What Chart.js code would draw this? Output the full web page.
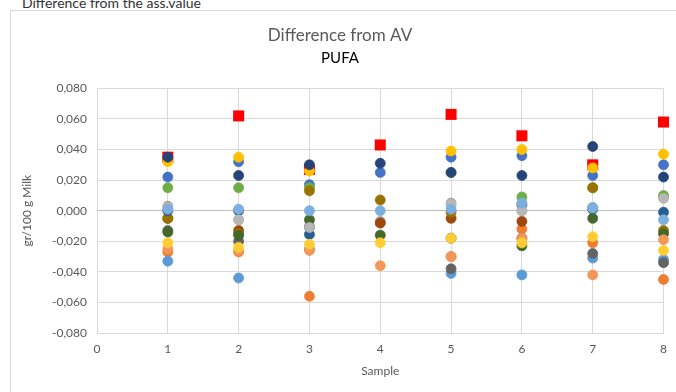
<!DOCTYPE html>
<html>
<head>
<meta charset="utf-8">
<script src="https://cdn.jsdelivr.net/npm/chart.js@4.4.0/dist/chart.umd.min.js"></script>
<style>
  html, body { margin: 0; padding: 0; background: #fff; overflow: hidden; }
  #note { position: absolute; left: 22px; top: -6px; font: 14px Lato, sans-serif; color: #333; white-space: nowrap; }
  #box { position: absolute; left: 10px; top: 10px; width: 700px; height: 420px; border: 1px solid #d9d9d9; }
  #wrap { position: absolute; left: 10px; top: 10px; width: 666px; height: 382px; }
</style>
</head>
<body>
<div id="note">Difference from the ass.value</div>
<div id="box"></div>
<div id="wrap"><canvas id="chart"></canvas></div>
<script>
// sample numbers on the x axis
const SAMPLES = [1, 2, 3, 4, 5, 6, 7, 8];

// red squares
const AV_LIMIT = [0.035, 0.062, 0.027, 0.043, 0.063, 0.049, 0.030, 0.058];

// one array per lab (null = not visible)
const LAB_01 = [0.022, 0.032, 0.017, 0.025, 0.035, 0.036, 0.023, 0.030];
const LAB_02 = [-0.027, -0.027, -0.056, -0.008, -0.030, -0.012, -0.021, -0.045];
const LAB_03 = [0.003, -0.006, -0.010, -0.007, 0.005, 0.000, 0.002, 0.009];
const LAB_04 = [0.032, 0.035, 0.026, null, 0.039, 0.040, 0.028, 0.037];
const LAB_05 = [-0.033, -0.044, -0.025, null, -0.041, -0.042, -0.031, -0.032];
const LAB_06 = [0.015, 0.015, 0.015, null, 0.025, 0.009, 0.015, 0.010];
const LAB_07 = [0.035, 0.023, 0.030, 0.031, 0.025, 0.023, 0.042, 0.022];
const LAB_08 = [-0.005, -0.013, null, -0.008, -0.005, -0.007, null, null];
const LAB_09 = [-0.013, -0.020, -0.011, null, -0.038, -0.018, -0.028, -0.034];
const LAB_10 = [-0.005, -0.015, 0.013, 0.007, -0.001, null, 0.015, -0.013];
const LAB_11 = [0.000, 0.000, -0.0155, null, null, 0.004, 0.001, -0.001];
const LAB_12 = [-0.014, -0.016, -0.006, -0.016, -0.018, -0.023, -0.005, -0.015];
const LAB_13 = [-0.025, -0.026, -0.026, -0.036, -0.030, -0.018, -0.042, -0.019];
const LAB_14 = [0.002, -0.006, -0.011, null, 0.004, 0.000, 0.002, 0.008];
const LAB_15 = [-0.021, -0.024, -0.022, -0.021, -0.018, -0.021, -0.017, -0.026];
const LAB_16 = [0.001, 0.001, 0.000, 0.000, 0.001, 0.005, 0.002, -0.006];

const LABS = [LAB_01, LAB_02, LAB_03, LAB_04, LAB_05, LAB_06, LAB_07, LAB_08,
              LAB_09, LAB_10, LAB_11, LAB_12, LAB_13, LAB_14, LAB_15, LAB_16];
const LAB_COLORS = ['#4472C4', '#ED7D31', '#A5A5A5', '#FFC000', '#5B9BD5', '#70AD47', '#264478', '#9E480E',
                    '#636363', '#997300', '#255E91', '#43682B', '#F1975A', '#B7B7B7', '#FFCD33', '#7CAFDD'];

const Y_MIN = -0.08, Y_MAX = 0.08, Y_STEP = 0.02;
const X_MIN = 0, X_MAX = 8;

const toPoints = vals => SAMPLES.map((s, i) => ({ x: s, y: vals[i] })).filter(p => p.y !== null);

const datasets = [{
  label: 'AV',
  data: toPoints(AV_LIMIT),
  pointStyle: 'rect',
  pointRadius: 7.8,
  backgroundColor: '#FF0000',
  borderColor: '#FF0000',
  borderWidth: 0,
  clip: false,
  order: 100
}];
LABS.forEach((vals, i) => {
  datasets.push({
    label: 'Lab ' + (i + 1),
    data: toPoints(vals),
    pointRadius: 5,
    backgroundColor: LAB_COLORS[i],
    borderColor: LAB_COLORS[i],
    borderWidth: 0.75,
    clip: false,
    order: LABS.length - i
  });
});

const gridColor = ctx => (ctx.tick && Math.abs(ctx.tick.value) < 1e-9 && ctx.scale.axis === 'y') ? '#bfbfbf' : '#d9d9d9';

new Chart(document.getElementById('chart'), {
  type: 'scatter',
  data: { datasets },
  options: {
    responsive: true,
    maintainAspectRatio: false,
    animation: false,
    layout: { padding: { left: 6, right: 12, bottom: 10 } },
    plugins: {
      legend: { display: false },
      tooltip: { enabled: false },
      title: {
        display: true,
        text: 'Difference from AV',
        color: '#595959',
        font: { family: 'Lato', size: 17, weight: 'normal' },
        padding: { top: 15, bottom: 2 }
      },
      subtitle: {
        display: true,
        text: 'PUFA',
        color: '#000',
        font: { family: 'Lato', size: 15, weight: 'normal' },
        padding: { top: 2, bottom: 21 }
      }
    },
    scales: {
      x: {
        type: 'linear',
        min: X_MIN,
        max: X_MAX,
        afterFit: s => { s.height = 49; },
        ticks: { stepSize: 1, color: '#595959', font: { family: 'Lato', size: 12 }, padding: 9 },
        grid: { color: '#d9d9d9', drawTicks: false },
        border: { color: '#d9d9d9' },
        title: { display: true, text: 'Sample', color: '#595959', font: { family: 'Lato', size: 12 }, padding: { top: 4 } }
      },
      y: {
        min: Y_MIN,
        max: Y_MAX,
        afterFit: s => { s.width = 81; },
        ticks: {
          stepSize: Y_STEP,
          color: '#595959',
          font: { family: 'Lato', size: 12 },
          padding: 10,
          callback: v => (Math.abs(v) < 1e-9 ? 0 : v).toFixed(3).replace('.', ',')
        },
        grid: { color: gridColor, drawTicks: false },
        border: { color: '#d9d9d9' },
        title: { display: true, text: 'gr/100 g Milk', color: '#595959', font: { family: 'Lato', size: 12 }, padding: { top: 4 } }
      }
    }
  }
});
</script>
</body>
</html>
